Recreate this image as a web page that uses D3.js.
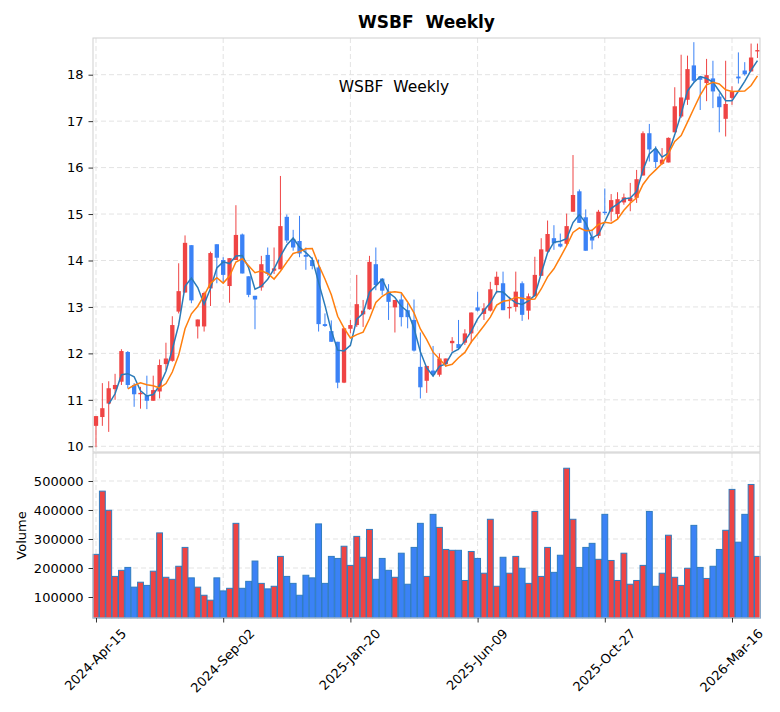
<!DOCTYPE html>
<html>
<head>
<meta charset="utf-8">
<script src="https://cdn.jsdelivr.net/npm/d3@7"></script>
<style>
  body { margin: 0; background: #fff; }
  svg text { font-family: "DejaVu Sans", sans-serif; }
</style>
</head>
<body>
<svg id="chart" width="780" height="712"></svg>
<script>
// weekly bars, first week 2024-04-15
var firstWeek = "2024-04-15";
var opens  = [10.44,10.63,10.92,11.23,11.39,12.03,11.32,11.12,11.10,10.98,11.18,11.77,11.84,12.90,13.31,14.33,12.58,12.58,13.40,14.35,
              14.01,13.45,14.01,14.56,13.66,13.24,13.42,14.12,13.78,13.81,14.94,14.46,14.42,14.12,14.01,13.85,12.63,12.48,12.25,11.37,
              12.53,12.61,12.84,12.95,13.92,13.61,13.33,12.99,13.16,12.93,12.72,11.71,11.41,11.63,11.54,11.77,12.22,12.20,12.23,12.43,
              12.99,12.85,12.92,13.47,13.51,12.97,13.00,13.51,12.92,13.23,13.67,14.19,14.48,14.36,14.36,15.05,15.49,14.93,14.51,14.53,
              15.05,15.05,15.00,15.25,15.28,15.35,15.83,16.74,16.39,16.08,16.11,16.76,17.10,17.46,18.20,17.96,17.82,17.92,17.53,17.05,
              17.50,17.96,18.09,18.07,18.50];
var highs  = [10.65,11.36,11.40,11.56,12.09,12.05,11.36,11.28,11.52,11.52,11.87,12.23,12.80,13.94,14.54,14.33,12.73,13.33,14.19,14.35,
              14.07,14.05,15.19,14.58,13.66,13.24,14.10,14.28,14.28,15.82,14.99,14.66,14.96,14.28,14.07,14.02,12.86,12.71,12.25,12.54,
              12.72,13.69,13.15,14.10,14.28,13.61,13.49,13.15,13.29,13.08,13.16,12.45,11.73,12.16,12.00,11.89,12.35,12.72,12.52,12.88,
              13.33,13.08,13.54,13.76,13.76,13.22,13.76,13.55,13.29,14.08,14.48,14.86,14.76,14.58,15.01,16.27,15.53,15.10,14.67,15.09,
              15.55,15.43,15.47,15.44,15.67,15.95,16.78,16.94,16.46,16.42,16.65,17.73,18.43,18.41,18.70,17.96,18.34,18.30,17.60,18.30,
              17.75,18.48,18.27,18.67,18.67];
var lows   = [9.98,10.44,10.31,11.00,11.32,11.25,10.85,10.81,10.80,10.98,11.03,11.64,11.82,12.86,13.31,13.08,12.32,12.47,13.02,13.51,
              13.51,13.09,14.01,13.72,13.21,12.52,13.35,13.67,13.71,13.81,14.38,14.21,14.07,13.80,13.81,12.47,12.57,12.25,11.25,11.36,
              12.43,12.57,12.57,12.94,13.36,13.26,12.72,12.45,12.58,12.54,12.04,11.03,11.15,11.50,11.50,11.71,12.04,12.07,12.18,12.22,
              12.90,12.72,12.90,13.29,12.93,12.75,12.90,12.70,12.73,13.23,13.67,14.17,14.23,14.28,14.33,15.05,14.81,14.21,14.24,14.48,
              14.98,14.84,14.88,15.20,15.06,15.24,15.83,16.13,15.99,16.06,16.11,16.76,17.07,17.35,17.82,17.24,17.43,17.28,16.76,16.67,
              17.35,17.81,17.98,18.07,18.36];
var closes = [10.65,10.82,11.25,11.32,12.05,11.32,11.12,11.15,10.98,11.21,11.75,11.89,12.61,13.34,14.38,13.14,12.73,13.30,14.16,14.06,
              13.69,14.05,14.55,13.72,13.26,13.16,13.92,13.71,13.83,14.74,14.43,14.28,14.15,14.08,13.88,12.63,12.59,12.25,11.37,12.54,
              12.61,13.06,12.92,13.97,13.47,13.35,13.11,13.15,12.78,12.78,12.06,11.27,11.73,11.54,11.89,11.89,12.27,12.11,12.43,12.88,
              12.92,12.97,13.38,13.65,12.93,13.00,13.33,12.83,13.23,13.69,14.24,14.57,14.37,14.30,14.74,15.41,14.81,14.21,14.43,15.05,
              15.02,15.30,15.32,15.36,15.35,15.75,16.74,16.39,16.12,16.17,16.64,17.32,17.51,18.12,17.87,17.89,17.99,17.64,17.30,17.37,
              17.64,17.92,18.01,18.37,18.53];
var volumes = [247000,465000,399000,171000,192000,202000,134000,151000,140000,189000,321000,168000,161000,206000,271000,166000,134000,106000,89000,166000,
               121000,130000,354000,130000,154000,224000,147000,128000,137000,240000,171000,147000,106000,175000,166000,352000,147000,240000,233000,275000,
               209000,309000,237000,333000,161000,233000,192000,168000,251000,144000,271000,354000,171000,385000,340000,264000,261000,261000,157000,257000,
               233000,182000,368000,137000,237000,182000,240000,199000,147000,395000,171000,271000,185000,244000,544000,368000,202000,271000,285000,230000,
               385000,226000,157000,251000,144000,157000,209000,395000,137000,182000,313000,168000,140000,199000,347000,202000,164000,206000,264000,330000,
               471000,289000,385000,488000,240000];
var maWindows = [3, 6];
var priceTicks = [10, 11, 12, 13, 14, 15, 16, 17, 18];
var volumeTicks = [100000, 200000, 300000, 400000, 500000];
var dateTickIdx = [0, 20, 40, 60, 80, 100];
var titleText = "WSBF  Weekly";

var upColor = "#ef4444", downColor = "#3b82f6";
var maColors = ["#2a7ab8", "#ff7f0e"];
var gridColor = "#e3e3e3", spineColor = "#cfcfcf";

var svg = d3.select("#chart");
var left = 93, right = 760;
var pTop = 38, pBottom = 452, vTop = 453, vBottom = 618;

var n = closes.length;
var x = d3.scaleLinear().domain([-0.47, 104.4]).range([left, right]);
var step = x(1) - x(0);
var yP = d3.scaleLinear().domain([9.877, 18.79]).range([pBottom, pTop]);
var yV = d3.scaleLinear().domain([27600, 596500]).range([vBottom, vTop]);

var parse = d3.timeParse("%Y-%m-%d");
var fmt = d3.timeFormat("%Y-%b-%d");
var dates = d3.range(n).map(function(i) { return d3.timeWeek.offset(parse(firstWeek), i); });

// grids
function grid(g, yScale, ticks, top, bottom) {
  g.selectAll(".hg").data(ticks).enter().append("line")
    .attr("x1", left).attr("x2", right)
    .attr("y1", function(d) { return yScale(d); }).attr("y2", function(d) { return yScale(d); })
    .attr("stroke", gridColor).attr("stroke-dasharray", "5,3");
  g.selectAll(".vg").data(dateTickIdx).enter().append("line")
    .attr("x1", function(d) { return x(d); }).attr("x2", function(d) { return x(d); })
    .attr("y1", top).attr("y2", bottom)
    .attr("stroke", gridColor).attr("stroke-dasharray", "5,3");
}
grid(svg.append("g"), yP, priceTicks, pTop, pBottom);
grid(svg.append("g"), yV, volumeTicks, vTop, vBottom);

// candles
var idx = d3.range(n);
var candles = svg.append("g");
candles.selectAll("line").data(idx).enter().append("line")
  .attr("x1", function(i) { return x(i); }).attr("x2", function(i) { return x(i); })
  .attr("y1", function(i) { return yP(highs[i]); }).attr("y2", function(i) { return yP(lows[i]); })
  .attr("stroke", function(i) { return closes[i] >= opens[i] ? upColor : downColor; })
  .attr("stroke-width", 1);
var bodyW = step * 0.68;
candles.selectAll("rect").data(idx).enter().append("rect")
  .attr("x", function(i) { return x(i) - bodyW / 2; })
  .attr("width", bodyW)
  .attr("y", function(i) { return yP(Math.max(opens[i], closes[i])); })
  .attr("height", function(i) { return Math.max(1, Math.abs(yP(opens[i]) - yP(closes[i]))); })
  .attr("fill", function(i) { return closes[i] >= opens[i] ? upColor : downColor; });

// moving averages of the closes
maWindows.forEach(function(w, k) {
  var pts = idx.filter(function(i) { return i >= w - 1; }).map(function(i) {
    return [i, d3.mean(closes.slice(i - w + 1, i + 1))];
  });
  svg.append("path").datum(pts)
    .attr("fill", "none").attr("stroke", maColors[k]).attr("stroke-width", 1.5)
    .attr("d", d3.line().x(function(d) { return x(d[0]); }).y(function(d) { return yP(d[1]); }));
});

// volume
var volW = step * 0.92;
svg.append("g").selectAll("rect").data(idx).enter().append("rect")
  .attr("x", function(i) { return x(i) - volW / 2; })
  .attr("width", volW)
  .attr("y", function(i) { return yV(volumes[i]); })
  .attr("height", function(i) { return vBottom - yV(volumes[i]); })
  .attr("fill", function(i) { return closes[i] >= opens[i] ? upColor : downColor; })
  .attr("stroke", "#2f7cbf").attr("stroke-width", 1);

// frames
[[pTop, pBottom], [vTop, vBottom]].forEach(function(p) {
  svg.append("rect").attr("x", left).attr("y", p[0]).attr("width", right - left).attr("height", p[1] - p[0])
    .attr("fill", "none").attr("stroke", spineColor).attr("stroke-width", 1);
});

// axes
var axP = svg.append("g").attr("transform", "translate(" + left + ",0)")
  .call(d3.axisLeft(yP).tickValues(priceTicks).tickSize(4.5).tickPadding(5).tickFormat(d3.format("d")));
var axV = svg.append("g").attr("transform", "translate(" + left + ",0)")
  .call(d3.axisLeft(yV).tickValues(volumeTicks).tickSize(4.5).tickPadding(5).tickFormat(d3.format("d")));
var axX = svg.append("g").attr("transform", "translate(0," + vBottom + ")")
  .call(d3.axisBottom(x).tickValues(dateTickIdx).tickSize(4.5).tickFormat(function(i) { return fmt(dates[i]); }));
[axP, axV, axX].forEach(function(a) {
  a.select(".domain").remove();
  a.selectAll("text").attr("font-size", 13).attr("fill", "#000").attr("font-family", "DejaVu Sans");
  a.selectAll("line").attr("stroke", "#333");
});
axX.selectAll("text").each(function() {
  var t = d3.select(this);
  var L = this.getComputedTextLength();
  var half = 0.7071 * (L + 15) / 2;
  t.attr("y", null).attr("dy", null)
    .attr("text-anchor", "middle").attr("dominant-baseline", "central")
    .attr("transform", "translate(-1," + (8 + half) + ") rotate(-45)");
});

// labels
svg.append("text").attr("x", 21).attr("y", (vTop + vBottom) / 2)
  .attr("transform", "rotate(-90,21," + ((vTop + vBottom) / 2) + ")")
  .attr("text-anchor", "middle").attr("dominant-baseline", "central")
  .attr("font-size", 13).text("Volume");
svg.append("text").attr("x", (left + right) / 2).attr("y", 28)
  .attr("text-anchor", "middle").attr("font-size", 17).attr("font-weight", "bold")
  .style("white-space", "pre").text(titleText);
svg.append("text").attr("x", 394).attr("y", 92)
  .attr("text-anchor", "middle").attr("font-size", 15.5)
  .style("white-space", "pre").text(titleText);
</script>
</body>
</html>
